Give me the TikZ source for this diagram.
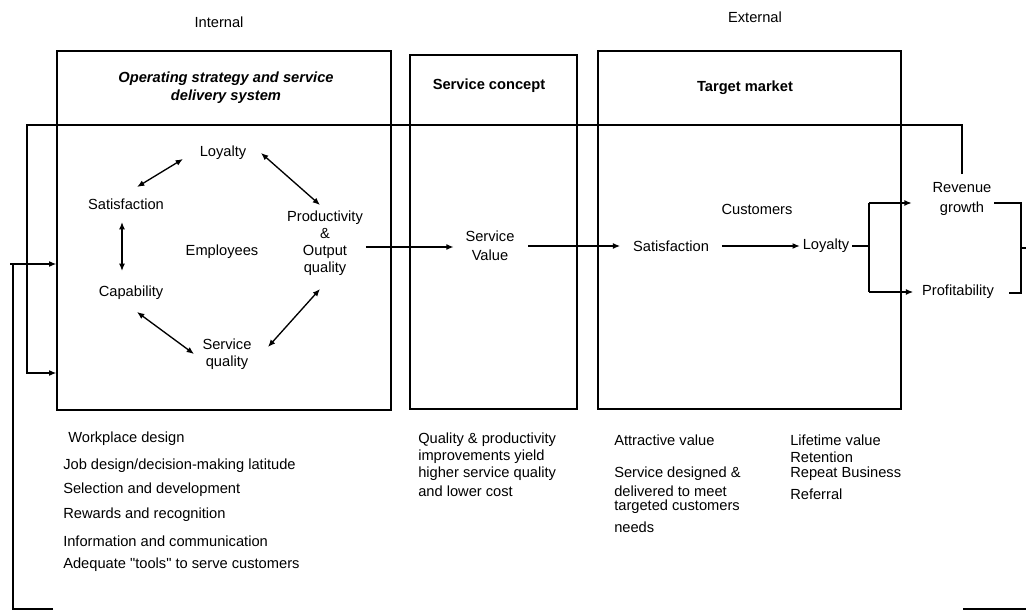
\documentclass[tikz,border=0pt]{standalone}
\usepackage{fontspec}
\setmainfont{Liberation Sans}
\newfontfamily\qfont{Liberation Sans}[Ligatures=TeXOff]
\usetikzlibrary{arrows.meta,fit}
\begin{document}
\begin{tikzpicture}[x=0.75pt,y=-0.75pt,
  every node/.style={font=\fontsize{11}{13}\selectfont, inner sep=2pt},
  lbl/.style={align=center},
  ttl/.style={align=center, font=\fontsize{11}{13.5}\selectfont\bfseries},
  box/.style={draw, line width=1pt, inner sep=0pt},
  ln/.style={line width=1pt},
  arr/.style={ln, -{Latex[length=5.5pt,width=4.5pt]}},
  dbl/.style={ln, {Latex[length=5.5pt,width=4.5pt]}-{Latex[length=5.5pt,width=4.5pt]}},
  item/.style={anchor=west, inner sep=0pt}]
\useasboundingbox (0,0) rectangle (1026,613);

% headers
\node (int) at (219,22) {Internal};
\node (ext) at (755,17) {External};

% boxes
\node[box, fit={(57,51) (391,410)}] (b1) {};
\node[box, fit={(410,55) (577,409)}] (b2) {};
\node[box, fit={(598,51) (901,409)}] (b3) {};

% titles
\node[ttl, font=\fontsize{11}{13.5}\selectfont\bfseries\itshape] (t1) at (226,88) {Operating strategy and service\\delivery system};
\node[ttl] (t2) at (489,86) {Service concept};
\node[ttl] (t3) at (745,88) {Target market};

% employee cycle
\node (loy) at (223,153) {Loyalty};
\node (sat) at (126,204) {Satisfaction};
\node[lbl, font=\fontsize{11}{12.75}\selectfont] (prod) at (325,243) {Productivity\\\&\\Output\\quality};
\node (emp) at (222,252) {Employees};
\node (cap) at (131,293) {Capability};
\node[lbl, font=\fontsize{11}{12.75}\selectfont] (sq) at (227,354) {Service\\quality};

\draw[dbl] ([shift={(-40,6)}]loy.center) -- ([shift={(11,-17)}]sat.center);
\draw[dbl] ([shift={(38,0)}]loy.center) -- ([shift={(-5,-38)}]prod.center);
\draw[dbl] ([shift={(-4,18)}]sat.center) -- ([shift={(-9,-22)}]cap.center);
\draw[dbl] ([shift={(6,19)}]cap.center) -- ([shift={(-33,0)}]sq.center);
\draw[dbl] ([shift={(41,-7)}]sq.center) -- ([shift={(-5,46)}]prod.center);

% service value and customers
\node[lbl, font=\fontsize{11}{14}\selectfont] (sv) at (490,246) {Service\\Value};
\node (cust) at (757,209) {Customers};
\node (csat) at (671,246) {Satisfaction};
\node (cloy) at (826,246) {Loyalty};
\node[lbl, font=\fontsize{11}{15}\selectfont] (rev) at (962,199) {Revenue\\growth};
\node (prof) at (958,292) {Profitability};

\coordinate (pv) at (0,247);
\draw[arr, shorten >=6.75pt] (prod.east |- pv) -- (sv.west |- pv);
\draw[arr, shorten <=8pt, shorten >=7.5pt] (sv.east) -- (csat.west);
\draw[arr, shorten <=7.5pt] (csat.east) -- (cloy.west);

% split to revenue and profitability
\coordinate (jm) at (869,246);
\coordinate (jt) at (869,203);
\coordinate (jb) at (869,292);
\draw[ln] (cloy.east) -- (jm);
\draw[ln] (jt) -- (jb);
\draw[arr, shorten >=13.5pt] (jt) -- (jt -| rev.west);
\draw[arr, shorten >=4.5pt] (jb) -- (prof.west);

% right bracket
\coordinate (rt) at (1021,203);
\coordinate (rbt) at (1021,293);
\coordinate (rm) at (1021,248);
\coordinate (redge) at (1026,248);
\draw[ln] (rev.east |- rt) -- (rt) -- (rbt) -- ([xshift=9]prof.east |- rbt);
\draw[ln] (rm) -- (redge);

% top feedback loop
\coordinate (tl) at (27,125);
\coordinate (la) at (27,373);
\draw[arr] ([yshift=4]rev.north) -- (rev.north |- tl) -- (tl) -- (la) -- (la -| b1.west);

% outer feedback loop
\coordinate (bl) at (13,609);
\coordinate (bl2) at (53,609);
\coordinate (bt) at (13,264);
\coordinate (bt0) at (10,264);
\draw[ln] (bl2) -- (bl) -- (bt);
\draw[arr] (bt0) -- (bt0 -| b1.west);
\coordinate (br1) at (963,609);
\coordinate (br2) at (1026,609);
\draw[ln] (br1) -- (br2);

% lists
\node[item] (l1) at (68,439) {Workplace design};
\node[item] (l2) at (63,466) {Job design/decision-making latitude};
\node[item] (l3) at (63,490) {Selection and development};
\node[item] (l4) at (63,515) {Rewards and recognition};
\node[item] (l5) at (63,541) {Information and communication};
\node[item] (l6) at (63,565) {Adequate {\qfont "}tools{\qfont "} to serve customers};

\node[item] (s1) at (418,440) {Quality \& productivity};
\node[item] (s2) at (418,457) {improvements yield};
\node[item] (s3) at (418,474) {higher service quality};
\node[item] (s4) at (418,491) {and lower cost};

\node[item] (a1) at (614,440) {Attractive value};
\node[item] (a2) at (614,474) {Service designed \&};
\node[item] (a3) at (614,491) {delivered to meet};
\node[item] (a4) at (614,507) {targeted customers};
\node[item] (a5) at (614,527) {needs};

\node[item] (v1) at (790,440) {Lifetime value};
\node[item] (v2) at (790,457) {Retention};
\node[item] (v3) at (790,474) {Repeat Business};
\node[item] (v4) at (790,494) {Referral};
\end{tikzpicture}
\end{document}
